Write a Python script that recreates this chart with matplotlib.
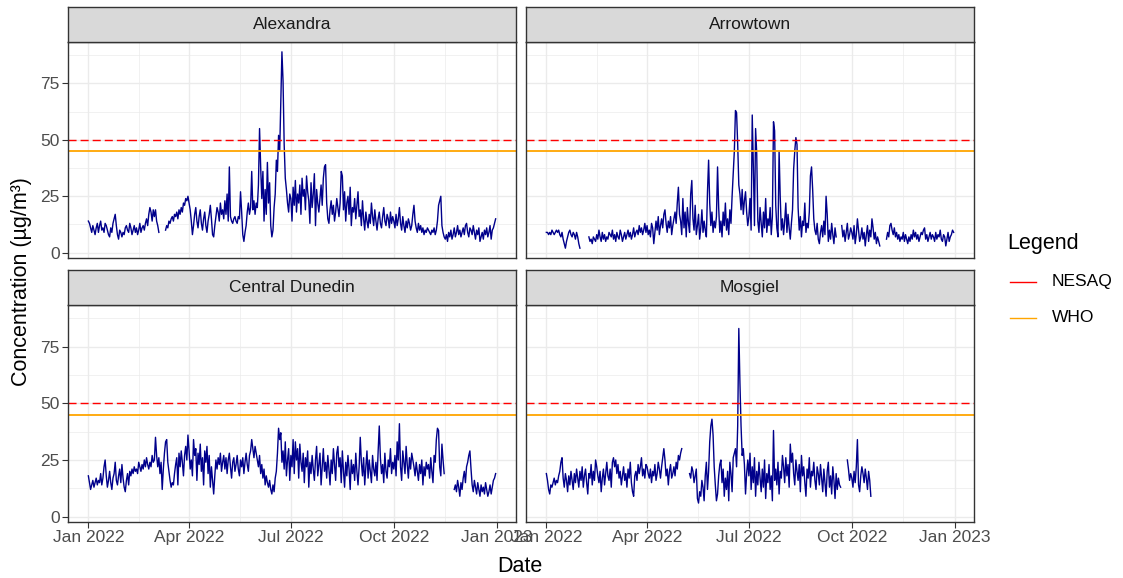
import numpy as np
import pandas as pd
import matplotlib
matplotlib.use("Agg")
import matplotlib.pyplot as plt
import matplotlib.dates as mdates
from matplotlib.lines import Line2D

NA = np.nan

# daily mean PM10 (ug/m3) for 2022, one row per month
alexandra = [
    [14, 13, 11, 9, 12, 10, 8, 11, 13, 9, 12, 14, 10, 11, 9, 13, 12, 10, 8, 7, 11, 9, 13, 15, 17, 12, 8, 6, 10, 9, 7],
    [9, 8, 11, 12, 10, 9, 13, 11, 8, 10, 12, 9, 11, 8, 10, 13, 9, 11, 12, 10, 13, 15, 12, 17, 20, 18, 14, 19],
    [16, 19, 14, 12, 9, NA, NA, NA, NA, NA, 10, 12, 11, 14, 13, 15, 16, 14, 17, 16, 18, 15, 19, 17, 20, 18, 22, 21, 24, 23, 25],
    [22, 19, 14, 8, 12, 17, 20, 14, 11, 16, 19, 13, 10, 15, 18, 12, 9, 14, 17, 21, 15, 8, 7, 12, 16, 20, 18, 14, 22, 17],
    [19, 15, 23, 17, 26, 14, 38, 16, 14, 13, 15, 16, 14, 13, 16, 15, 27, 18, 8, 5, 9, 12, 18, 22, 17, 20, 36, 19, 23, 17, 22],
    [20, 30, 55, 38, 24, 36, 14, 28, 17, 40, 22, 31, 12, 7, 10, 20, 26, 41, 36, 52, 45, 67, 89, 76, 48, 33, 28, 22, 18, 26],
    [24, 14, 29, 21, 32, 18, 26, 22, 30, 17, 33, 25, 28, 19, 34, 27, 23, 13, 31, 20, 26, 35, 12, 28, 22, 18, 24, 30, 21, 33, 38],
    [39, 22, 15, 13, 19, 23, 17, 21, 14, 18, 24, 20, 16, 22, 36, 34, 19, 27, 14, 22, 25, 17, 29, 12, 20, 18, 24, 15, 21, 27, 16],
    [19, 12, 23, 15, 10, 18, 14, 11, 17, 13, 22, 16, 12, 19, 14, 10, 15, 18, 13, 11, 16, 20, 14, 12, 17, 15, 11, 18, 13, 16],
    [14, 11, 17, 12, 15, 20, 13, 10, 16, 12, 9, 14, 11, 15, 13, 10, 12, 17, 21, 14, 11, 9, 13, 10, 12, 9, 11, 8, 10, 9, 11],
    [10, 9, 8, 10, 9, 11, 8, 10, 14, 21, 23, 25, 12, 9, 7, 6, 8, 5, 9, 7, 10, 6, 8, 11, 7, 9, 12, 8, 10, 7],
    [9, 11, 8, 12, 13, 9, 7, 11, 10, 8, 12, 9, 6, 10, 8, 11, 5, 7, 9, 6, 10, 8, 11, 7, 9, 12, 6, 10, 11, 13, 15],
]

arrowtown = [
    [9, 9, 8, 9, 8, 10, 9, 8, 9, 10, 9, 10, 8, 7, 9, 6, 4, 2, 5, 7, 9, 10, 8, 7, 9, 8, 6, 9, 7, 4, 2],
    [NA, NA, NA, NA, NA, NA, NA, 7, 5, 6, 4, 7, 6, 5, 8, 6, 10, 7, 5, 9, 6, 8, 5, 7, 6, 9, 8, 7],
    [10, 6, 8, 5, 9, 7, 6, 10, 8, 5, 7, 9, 6, 8, 10, 7, 9, 6, 8, 11, 7, 9, 10, 8, 12, 9, 11, 8, 10, 13, 9],
    [12, 8, 10, 7, 13, 11, 4, 9, 14, 10, 16, 8, 12, 15, 11, 17, 19, 13, 9, 14, 11, 16, 8, 12, 15, 18, 13, 22, 29, 17],
    [14, 8, 24, 11, 18, 7, 20, 13, 9, 26, 32, 15, 10, 21, 8, 12, 17, 6, 11, 19, 9, 14, 10, 7, 27, 41, 22, 12, 18, 9, 14],
    [11, 16, 38, 20, 9, 14, 7, 18, 12, 22, 10, 15, 8, 19, 13, 25, 35, 45, 63, 62, 48, 30, 26, 19, 28, 17, 23, 27, 18, 12],
    [16, 24, 10, 61, 38, 12, 55, 44, 14, 9, 20, 13, 7, 18, 11, 24, 9, 15, 12, 20, 8, 16, 58, 54, 21, 11, 7, 45, 25, 10, 15],
    [8, 14, 22, 9, 17, 11, 6, 13, 19, 37, 45, 51, 48, 20, 10, 16, 7, 14, 12, 22, 9, 13, 11, 18, 34, 38, 28, 15, 10, 8, 13],
    [6, 4, 9, 12, 7, 14, 8, 25, 17, 5, 10, 6, 13, 8, 4, 11, 7, NA, NA, NA, NA, 12, 7, 10, 5, 9, 13, 6, 8, 11],
    [9, 6, 12, 4, 8, 15, 10, 5, 7, 11, 6, 9, 3, 8, 12, 5, 10, 7, 15, 11, 6, 9, 4, 7, 5, 3, NA, NA, NA, NA, NA],
    [6, 9, 7, 12, 13, 10, 8, 11, 7, 9, 6, 8, 5, 7, 6, 9, 5, 8, 6, 4, 7, 5, 8, 6, 10, 7, 9, 6, 8, 5],
    [7, 9, 8, 10, 11, 6, 8, 5, 7, 9, 6, 8, 7, 5, 9, 6, 8, 7, 10, 6, 5, 8, 7, 3, 6, 9, 5, 7, 8, 10, 9],
]

central_dunedin = [
    [18, 15, 12, 14, 16, 13, 15, 17, 14, 16, 15, 19, 14, 17, 22, 25, 18, 13, 16, 20, 15, 12, 17, 19, 24, 16, 14, 18, 21, 15, 23],
    [17, 13, 11, 16, 19, 14, 20, 18, 21, 19, 22, 20, 21, 19, 24, 22, 20, 23, 21, 25, 22, 26, 23, 21, 24, 22, 27, 24],
    [25, 35, 27, 22, 26, 19, 24, 12, 21, 28, 33, 34, 24, 20, 16, 13, 15, 14, 19, 23, 26, 14, 28, 22, 29, 24, 18, 27, 31, 25, 36],
    [29, 21, 25, 18, 34, 27, 30, 16, 28, 23, 32, 20, 26, 14, 29, 24, 31, 19, 27, 13, 22, 16, 10, 18, 25, 21, 26, 23, 28, 20],
    [24, 27, 21, 26, 19, 25, 28, 22, 17, 24, 26, 20, 23, 27, 21, 18, 25, 22, 26, 19, 24, 28, 23, 20, 27, 29, 34, 30, 26, 31, 28],
    [25, 22, 27, 19, 23, 17, 21, 14, 18, 15, 13, 16, 12, 10, 14, 11, 17, 20, 28, 39, 34, 37, 24, 29, 21, 33, 18, 25, 30, 16],
    [27, 22, 34, 19, 33, 25, 30, 17, 32, 24, 20, 28, 15, 26, 22, 29, 13, 24, 19, 27, 21, 16, 25, 31, 18, 23, 28, 14, 22, 30, 20],
    [24, 17, 27, 21, 14, 25, 19, 30, 23, 16, 28, 31, 22, 26, 15, 29, 20, 13, 24, 18, 27, 21, 12, 25, 19, 23, 16, 28, 20, 14, 22],
    [35, 24, 18, 26, 14, 22, 29, 17, 25, 20, 15, 27, 21, 18, 24, 16, 29, 40, 26, 19, 23, 15, 28, 20, 17, 25, 22, 30, 19, 24],
    [21, 27, 18, 33, 25, 41, 22, 16, 29, 24, 19, 31, 23, 17, 26, 21, 28, 25, 22, 18, 24, 20, 16, 23, 19, 25, 14, 22, 18, 24, 21],
    [23, 17, 26, 20, 15, 27, 24, 34, 39, 38, 22, 18, 32, 25, 19, NA, NA, NA, NA, NA, NA, NA, NA, 12, 14, 11, 16, 13, 9, 15],
    [12, 17, 20, 15, 22, 24, 27, 29, 21, 14, 11, 16, 13, 10, 15, 12, 9, 14, 11, 13, 10, 15, 12, 9, 11, 14, 10, 13, 16, 17, 19],
]

mosgiel = [
    [19, 16, 12, 10, 14, 13, 15, 17, 14, 16, 15, 18, 20, 24, 26, 17, 13, 19, 16, 11, 18, 14, 20, 16, 12, 19, 15, 21, 17, 13, 20],
    [16, 22, 13, 18, 21, 15, 10, 19, 17, 23, 14, 20, 16, 25, 22, 18, 15, 20, 11, 17, 21, 14, 19, 24, 18, 16, 21, 13],
    [24, 26, 22, 25, 19, 23, 17, 20, 14, 18, 22, 16, 19, 13, 21, 17, 24, 15, 11, 9, 18, 20, 16, 23, 19, 22, 26, 18, 21, 17, 23],
    [22, 19, 17, 21, 15, 20, 18, 23, 16, 19, 24, 21, 17, 22, 26, 30, 25, 18, 21, 14, 20, 23, 17, 19, 22, 18, 24, 21, 27, 25],
    [28, 30, NA, NA, NA, NA, NA, NA, 19, 17, 22, 20, 15, 18, 21, 8, 6, 11, 9, 16, 13, 7, 18, 24, 12, 20, 33, 40, 43, 36, 22],
    [14, 7, 10, 18, 23, 25, 15, 21, 9, 17, 12, 20, 7, 24, 19, 11, 26, 28, 30, 22, 40, 83, 59, 40, 27, 30, 23, 10, 19, 25],
    [18, 28, 12, 22, 15, 26, 9, 20, 14, 24, 17, 11, 21, 13, 25, 8, 19, 15, 23, 12, 18, 7, 38, 16, 21, 14, 24, 10, 20, 17, 27],
    [22, 15, 26, 18, 23, 13, 32, 24, 28, 19, 14, 25, 20, 16, 23, 11, 27, 18, 22, 15, 9, 21, 17, 26, 13, 20, 18, 24, 16, 12, 22],
    [19, 14, 23, 17, 11, 21, 15, 9, 20, 24, 13, 18, 10, 22, 16, 8, 19, 12, 17, 14, 13, NA, NA, NA, NA, NA, 25, 21, 16, 19],
    [17, 13, 20, 15, 22, 34, 14, 11, 18, 22, 19, 15, 21, 17, 12, 20, 16, 9] + [NA] * 13,
    [NA] * 30,
    [NA] * 31,
]

stations = ["Alexandra", "Arrowtown", "Central Dunedin", "Mosgiel"]
series = [alexandra, arrowtown, central_dunedin, mosgiel]
limits = {"NESAQ": 50, "WHO": 45}

dates = pd.date_range("2022-01-01", "2022-12-31", freq="D")
values = [np.array(sum(s, []), dtype=float) for s in series]
for name, v in zip(stations, values):
    assert len(v) == len(dates), (name, len(v))

plt.rcParams["font.family"] = ["Liberation Sans", "DejaVu Sans"]
plt.rcParams["lines.scale_dashes"] = False

W, H = 1123, 578
fig = plt.figure(figsize=(W / 100, H / 100), dpi=100)


def px_axes(x0, y0, x1, y1):
    return fig.add_axes([x0 / W, 1 - y1 / H, (x1 - x0) / W, (y1 - y0) / H])


# panel boxes in pixels (left, top, right, bottom)
boxes = [(68, 42, 516, 258), (526, 42, 974, 258),
         (68, 305, 516, 522), (526, 305, 974, 522)]
strip_h = 35

allv = np.concatenate(values)
lo, hi = np.nanmin(allv), np.nanmax(allv)
ylim = (lo - 0.05 * (hi - lo), hi + 0.05 * (hi - lo))
d0, d1 = mdates.date2num(dates[0]), mdates.date2num(dates[-1])
xlim = (d0 - 0.05 * (d1 - d0), d1 + 0.05 * (d1 - d0))

major_x = mdates.date2num(pd.to_datetime(["2022-01-01", "2022-04-01", "2022-07-01",
                                          "2022-10-01", "2023-01-01"]))
minor_x = (major_x[:-1] + major_x[1:]) / 2

for i, (name, v, box) in enumerate(zip(stations, values, boxes)):
    ax = px_axes(*box)
    ax.set_xlim(xlim)
    ax.set_ylim(ylim)
    ax.set_xticks(major_x)
    ax.set_xticks(minor_x, minor=True)
    ax.set_yticks([0, 25, 50, 75])
    ax.set_yticks([12.5, 37.5, 62.5, 87.5], minor=True)
    ax.grid(which="major", color="#EBEBEB", lw=1.0)
    ax.grid(which="minor", color="#EBEBEB", lw=0.5)
    ax.set_axisbelow(True)

    ax.plot(dates, v, color="#00008B", lw=1.0)
    ax.axhline(limits["NESAQ"], color="red", lw=1.0, dashes=(5.8, 2.9))
    ax.axhline(limits["WHO"], color="orange", lw=1.3)

    for sp in ax.spines.values():
        sp.set_color("#333333")
        sp.set_linewidth(1.0)
    ax.tick_params(which="major", direction="out", length=4, width=0.8, color="#333333",
                   labelcolor="#4D4D4D", labelsize=12.5, pad=2)
    ax.tick_params(which="minor", length=0)
    ax.set_yticklabels(["0", "25", "50", "75"])
    ax.xaxis.set_major_formatter(mdates.DateFormatter("%b %Y"))
    if i % 2 == 1:
        ax.tick_params(axis="y", which="major", length=0, labelleft=False)
    if i < 2:
        ax.tick_params(axis="x", which="major", length=0, labelbottom=False)

    # facet strip
    sx = px_axes(box[0], box[1] - strip_h, box[2], box[1])
    sx.set_xticks([])
    sx.set_yticks([])
    sx.set_facecolor("#D9D9D9")
    for sp in sx.spines.values():
        sp.set_color("#333333")
        sp.set_linewidth(1.0)
    sx.text(0.5, 0.5, name, ha="center", va="center", fontsize=12.5, color="#1A1A1A",
            transform=sx.transAxes)

fig.text(520 / W, 1 - 566 / H, "Date", ha="center", va="center", fontsize=15.5)
fig.text(22 / W, 1 - 282 / H, "Concentration (µg/m³)", ha="center", va="center",
         rotation=90, fontsize=15.5)

# legend
fig.text(1007 / W, 1 - 244 / H, "Legend", ha="left", va="center", fontsize=15.5)
for lab, col, y in [("NESAQ", "red", 282), ("WHO", "orange", 318)]:
    fig.add_artist(Line2D([1010 / W, 1036 / W], [1 - y / H] * 2, color=col, lw=1.0,
                          transform=fig.transFigure))
    fig.text(1052 / W, 1 - y / H, lab, ha="left", va="center", fontsize=12.5)

fig.savefig("out.png", dpi=100)
